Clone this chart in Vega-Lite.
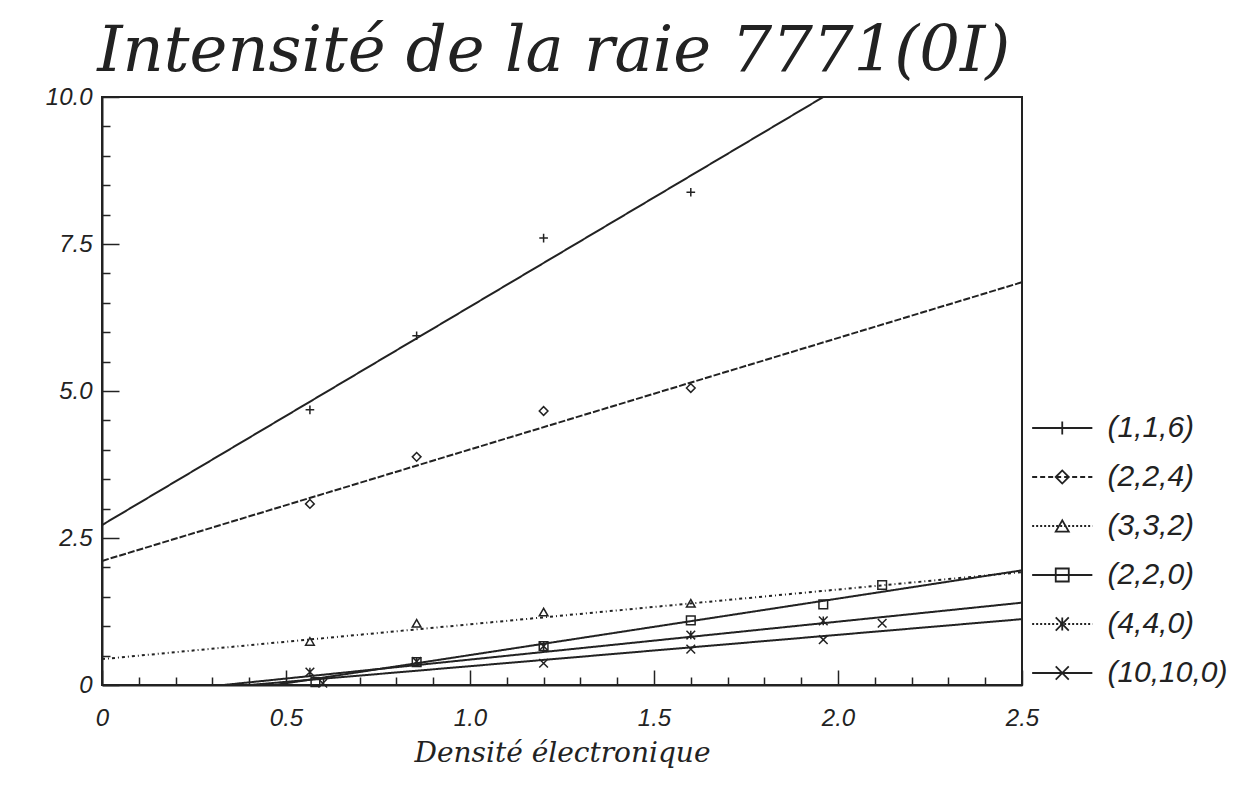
{
  "$schema": "https://vega.github.io/schema/vega-lite/v6.json",
  "background": "white",
  "padding": {"left": 44, "top": 20, "right": 5, "bottom": 5},
  "title": {
    "text": "Intensité de la raie 7771(0I)",
    "anchor": "start",
    "dx": 53,
    "font": "DejaVu Serif",
    "fontStyle": "italic",
    "fontWeight": "normal",
    "fontSize": 64,
    "color": "#222",
    "offset": 0
  },
  "datasets": {
    "fits": [
      {"series": "(1,1,6)", "x": 0, "y": 2.72},
      {"series": "(1,1,6)", "x": 1.96, "y": 10.0},
      {"series": "(2,2,4)", "x": 0, "y": 2.11},
      {"series": "(2,2,4)", "x": 2.5, "y": 6.85},
      {"series": "(3,3,2)", "x": 0, "y": 0.44},
      {"series": "(3,3,2)", "x": 2.5, "y": 1.92},
      {"series": "(2,2,0)", "x": 0.47, "y": 0},
      {"series": "(2,2,0)", "x": 2.5, "y": 1.95},
      {"series": "(4,4,0)", "x": 0.33, "y": 0},
      {"series": "(4,4,0)", "x": 2.5, "y": 1.40},
      {"series": "(10,10,0)", "x": 0.4, "y": 0},
      {"series": "(10,10,0)", "x": 2.5, "y": 1.12}
    ],
    "pts": [
      {"series": "(1,1,6)", "x": 0.565, "y": 4.68},
      {"series": "(1,1,6)", "x": 0.855, "y": 5.94},
      {"series": "(1,1,6)", "x": 1.2, "y": 7.6},
      {"series": "(1,1,6)", "x": 1.6, "y": 8.38},
      {"series": "(2,2,4)", "x": 0.565, "y": 3.08},
      {"series": "(2,2,4)", "x": 0.855, "y": 3.88},
      {"series": "(2,2,4)", "x": 1.2, "y": 4.66},
      {"series": "(2,2,4)", "x": 1.6, "y": 5.05},
      {"series": "(3,3,2)", "x": 0.565, "y": 0.74},
      {"series": "(3,3,2)", "x": 0.855, "y": 1.05},
      {"series": "(3,3,2)", "x": 1.2, "y": 1.24},
      {"series": "(3,3,2)", "x": 1.6, "y": 1.39},
      {"series": "(2,2,0)", "x": 0.58, "y": 0.05},
      {"series": "(2,2,0)", "x": 0.855, "y": 0.39},
      {"series": "(2,2,0)", "x": 1.2, "y": 0.66},
      {"series": "(2,2,0)", "x": 1.6, "y": 1.1},
      {"series": "(2,2,0)", "x": 1.96, "y": 1.37},
      {"series": "(2,2,0)", "x": 2.12, "y": 1.7},
      {"series": "(4,4,0)", "x": 0.565, "y": 0.22},
      {"series": "(4,4,0)", "x": 0.855, "y": 0.4},
      {"series": "(4,4,0)", "x": 1.2, "y": 0.66},
      {"series": "(4,4,0)", "x": 1.6, "y": 0.85},
      {"series": "(4,4,0)", "x": 1.96, "y": 1.09},
      {"series": "(10,10,0)", "x": 0.6, "y": 0.03},
      {"series": "(10,10,0)", "x": 1.2, "y": 0.37},
      {"series": "(10,10,0)", "x": 1.6, "y": 0.61},
      {"series": "(10,10,0)", "x": 1.96, "y": 0.77},
      {"series": "(10,10,0)", "x": 2.12, "y": 1.05}
    ],
    "leg": [
      {"series": "(1,1,6)", "order": 1},
      {"series": "(2,2,4)", "order": 2},
      {"series": "(3,3,2)", "order": 3},
      {"series": "(2,2,0)", "order": 4},
      {"series": "(4,4,0)", "order": 5},
      {"series": "(10,10,0)", "order": 6}
    ]
  },
  "spacing": 8,
  "bounds": "flush",
  "resolve": {"scale": {"x": "independent", "y": "independent", "shape": "independent", "strokeDash": "independent"}},
  "hconcat": [
    {
      "width": 920,
      "height": 588,
      "view": {"stroke": "#222", "strokeWidth": 2},
      "resolve": {"axis": {"x": "independent", "y": "independent"}},
      "layer": [
        {
          "data": {"name": "fits"},
          "mark": {"type": "line", "color": "#222", "strokeWidth": 2, "clip": true},
          "encoding": {
            "x": {
              "field": "x", "type": "quantitative",
              "scale": {"domain": [0, 2.5], "nice": false},
              "axis": {
                "orient": "bottom",
                "values": [0, 0.5, 1, 1.5, 2, 2.5],
                "labelExpr": "datum.value == 0 ? '0' : format(datum.value, '.1f')",
                "title": "Densité électronique",
                "titleFont": "DejaVu Serif", "titleFontStyle": "italic", "titleFontWeight": "normal",
                "titleFontSize": 28, "titleColor": "#222", "titlePadding": 9,
                "labelFont": "Liberation Sans", "labelFontStyle": "italic", "labelFontSize": 24,
                "labelColor": "#222", "labelPadding": 36, "labelFlush": false,
                "tickSize": -15, "tickColor": "#222", "tickWidth": 1.5,
                "domainColor": "#222", "domainWidth": 2, "grid": false
              }
            },
            "y": {
              "field": "y", "type": "quantitative",
              "scale": {"domain": [0, 10], "nice": false},
              "axis": {
                "orient": "left",
                "values": [0, 2.5, 5, 7.5, 10],
                "labelExpr": "datum.value == 0 ? '0' : format(datum.value, '.1f')",
                "title": null,
                "labelFont": "Liberation Sans", "labelFontStyle": "italic", "labelFontSize": 24,
                "labelColor": "#222", "labelPadding": 27, "labelFlush": false,
                "tickSize": -17, "tickColor": "#222", "tickWidth": 1.5,
                "domainColor": "#222", "domainWidth": 2, "grid": false
              }
            },
            "detail": {"field": "series"},
            "strokeDash": {
              "field": "series", "type": "nominal", "legend": null,
              "scale": {
                "domain": ["(1,1,6)", "(2,2,4)", "(3,3,2)", "(2,2,0)", "(4,4,0)", "(10,10,0)"],
                "range": [[1, 0], [7, 2], [3, 3, 1, 3], [1, 0], [1, 0], [1, 0]]
              }
            }
          }
        },
        {
          "data": {"name": "pts"},
          "mark": {"type": "point", "filled": false, "color": "#222", "strokeWidth": 1.5, "size": 75, "opacity": 1},
          "encoding": {
            "x": {
              "field": "x", "type": "quantitative",
              "axis": {
                "orient": "bottom",
                "values": [0.1, 0.2, 0.3, 0.4, 0.6, 0.7, 0.8, 0.9, 1.1, 1.2, 1.3, 1.4, 1.6, 1.7, 1.8, 1.9, 2.1, 2.2, 2.3, 2.4],
                "labels": false, "domain": false, "title": null, "grid": false,
                "tickSize": -8, "tickColor": "#222", "tickWidth": 1.5
              }
            },
            "y": {
              "field": "y", "type": "quantitative",
              "axis": {
                "orient": "left",
                "values": [0.5, 1, 1.5, 2, 3, 3.5, 4, 4.5, 5.5, 6, 6.5, 7, 8, 8.5, 9, 9.5],
                "labels": false, "domain": false, "title": null, "grid": false,
                "tickSize": -8, "tickColor": "#222", "tickWidth": 1.5
              }
            },
            "shape": {
              "field": "series", "type": "nominal", "legend": null,
              "scale": {
                "domain": ["(1,1,6)", "(2,2,4)", "(3,3,2)", "(2,2,0)", "(4,4,0)", "(10,10,0)"],
                "range": ["M-1,0H1M0,-1V1", "diamond", "triangle-up", "square", "M-1,-1L1,1M-1,1L1,-1M0,-1V1", "M-1,-1L1,1M-1,1L1,-1"]
              }
            }
          }
        }
      ]
    },
    {
      "width": 215,
      "height": 588,
      "view": {"stroke": null},
      "data": {"name": "leg"},
      "encoding": {
        "y": {
          "field": "order", "type": "quantitative", "axis": null,
          "scale": {"domain": [-5.755, 6.245], "reverse": true, "nice": false, "zero": false}
        }
      },
      "layer": [
        {
          "mark": {"type": "rule", "color": "#222", "strokeWidth": 2},
          "encoding": {
            "x": {"datum": 0.1, "type": "quantitative", "scale": {"domain": [0, 10], "nice": false}, "axis": null},
            "x2": {"datum": 2.9},
            "strokeDash": {
              "field": "series", "type": "nominal", "legend": null,
              "scale": {
                "domain": ["(1,1,6)", "(2,2,4)", "(3,3,2)", "(2,2,0)", "(4,4,0)", "(10,10,0)"],
                "range": [[1, 0], [5, 3], [2, 2], [1, 0], [2, 2], [1, 0]]
              }
            }
          }
        },
        {
          "mark": {"type": "point", "filled": false, "color": "#222", "strokeWidth": 1.8, "size": 170, "opacity": 1},
          "encoding": {
            "x": {"datum": 1.5, "type": "quantitative"},
            "shape": {
              "field": "series", "type": "nominal", "legend": null,
              "scale": {
                "domain": ["(1,1,6)", "(2,2,4)", "(3,3,2)", "(2,2,0)", "(4,4,0)", "(10,10,0)"],
                "range": ["M-1,0H1M0,-1V1", "diamond", "triangle-up", "square", "M-1,-1L1,1M-1,1L1,-1M0,-1V1", "M-1,-1L1,1M-1,1L1,-1"]
              }
            }
          }
        },
        {
          "mark": {"type": "text", "align": "left", "baseline": "middle", "font": "Liberation Sans", "fontStyle": "italic", "fontSize": 30, "color": "#222"},
          "encoding": {
            "x": {"datum": 3.6, "type": "quantitative"},
            "text": {"field": "series"}
          }
        }
      ]
    }
  ]
}
